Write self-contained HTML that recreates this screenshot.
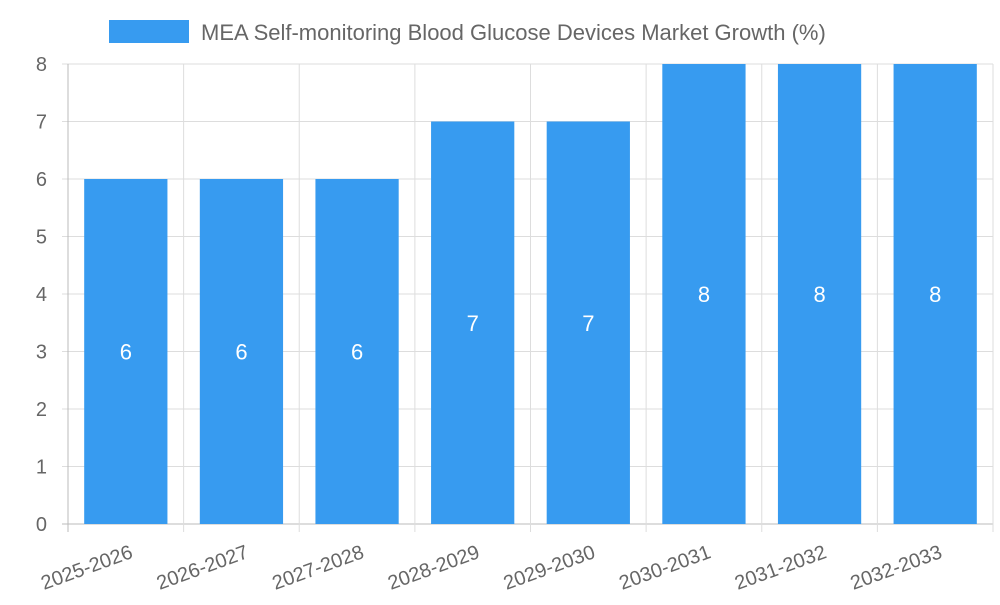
<!DOCTYPE html>
<html><head><meta charset="utf-8"><style>
body{margin:0;background:#fff;}
svg text{font-family:"Liberation Sans",sans-serif;}
</style></head><body>
<svg id="chart" width="1000" height="600" xmlns="http://www.w3.org/2000/svg">
<rect x="109" y="20" width="80" height="23" fill="#379bf0"/>
<text x="201" y="40" font-size="22" fill="#666">MEA Self-monitoring Blood Glucose Devices Market Growth (%)</text>
<g id="grid"></g><g id="bars"></g><g id="labels"></g>
</svg>
<script>
const categories=["2025-2026","2026-2027","2027-2028","2028-2029","2029-2030","2030-2031","2031-2032","2032-2033"];
const values=[6,6,6,7,7,8,8,8];
const yTicks=[0,1,2,3,4,5,6,7,8];
const L=68,R=993,T=64,B=524,yMax=8;
const NS="http://www.w3.org/2000/svg";
const bw=(R-L)/categories.length;
const y=v=>B-(v/yMax)*(B-T);
const x=i=>L+i*bw;
function mk(tag,attrs,parent){const e=document.createElementNS(NS,tag);for(const k in attrs)e.setAttribute(k,attrs[k]);parent.appendChild(e);return e;}
const grid=document.getElementById('grid'),bars=document.getElementById('bars'),labels=document.getElementById('labels');
yTicks.forEach(t=>{
 const l=mk('line',{x1:L-6,x2:R,y1:y(t),y2:y(t),stroke:t===0?'#bbb':'#ddd','stroke-width':1},grid);
 
 
 const tx=mk('text',{x:47,y:y(t)+7,'font-size':20,fill:'#666','text-anchor':'end'},labels);
 tx.textContent=t;
 
 
});
for(let i=0;i<=categories.length;i++){
 const l=mk('line',{x1:x(i),x2:x(i),y1:T,y2:B+8,stroke:i===0?'#bbb':'#ddd','stroke-width':1},grid);
 
 
}
categories.forEach((c,i)=>{
 const pad=bw*0.14;
 const r=mk('rect',{x:x(i)+pad,y:y(values[i]),width:bw-2*pad,height:B-y(values[i]),fill:'#379bf0'},bars);
 
 
 const v=mk('text',{x:x(i)+bw/2,y:(y(values[i])+B)/2+8,'font-size':22,fill:'#fff','text-anchor':'middle'},labels);
 v.textContent=values[i];
 
 
 const cx=x(i)+bw/2+4,cy=B+22;
 const t=mk('text',{x:cx,y:cy+12,'font-size':20,fill:'#666','text-anchor':'end',transform:`rotate(-20 ${cx} ${cy})`},labels);
 t.textContent=c;
 
 
});
</script>
</body></html>
